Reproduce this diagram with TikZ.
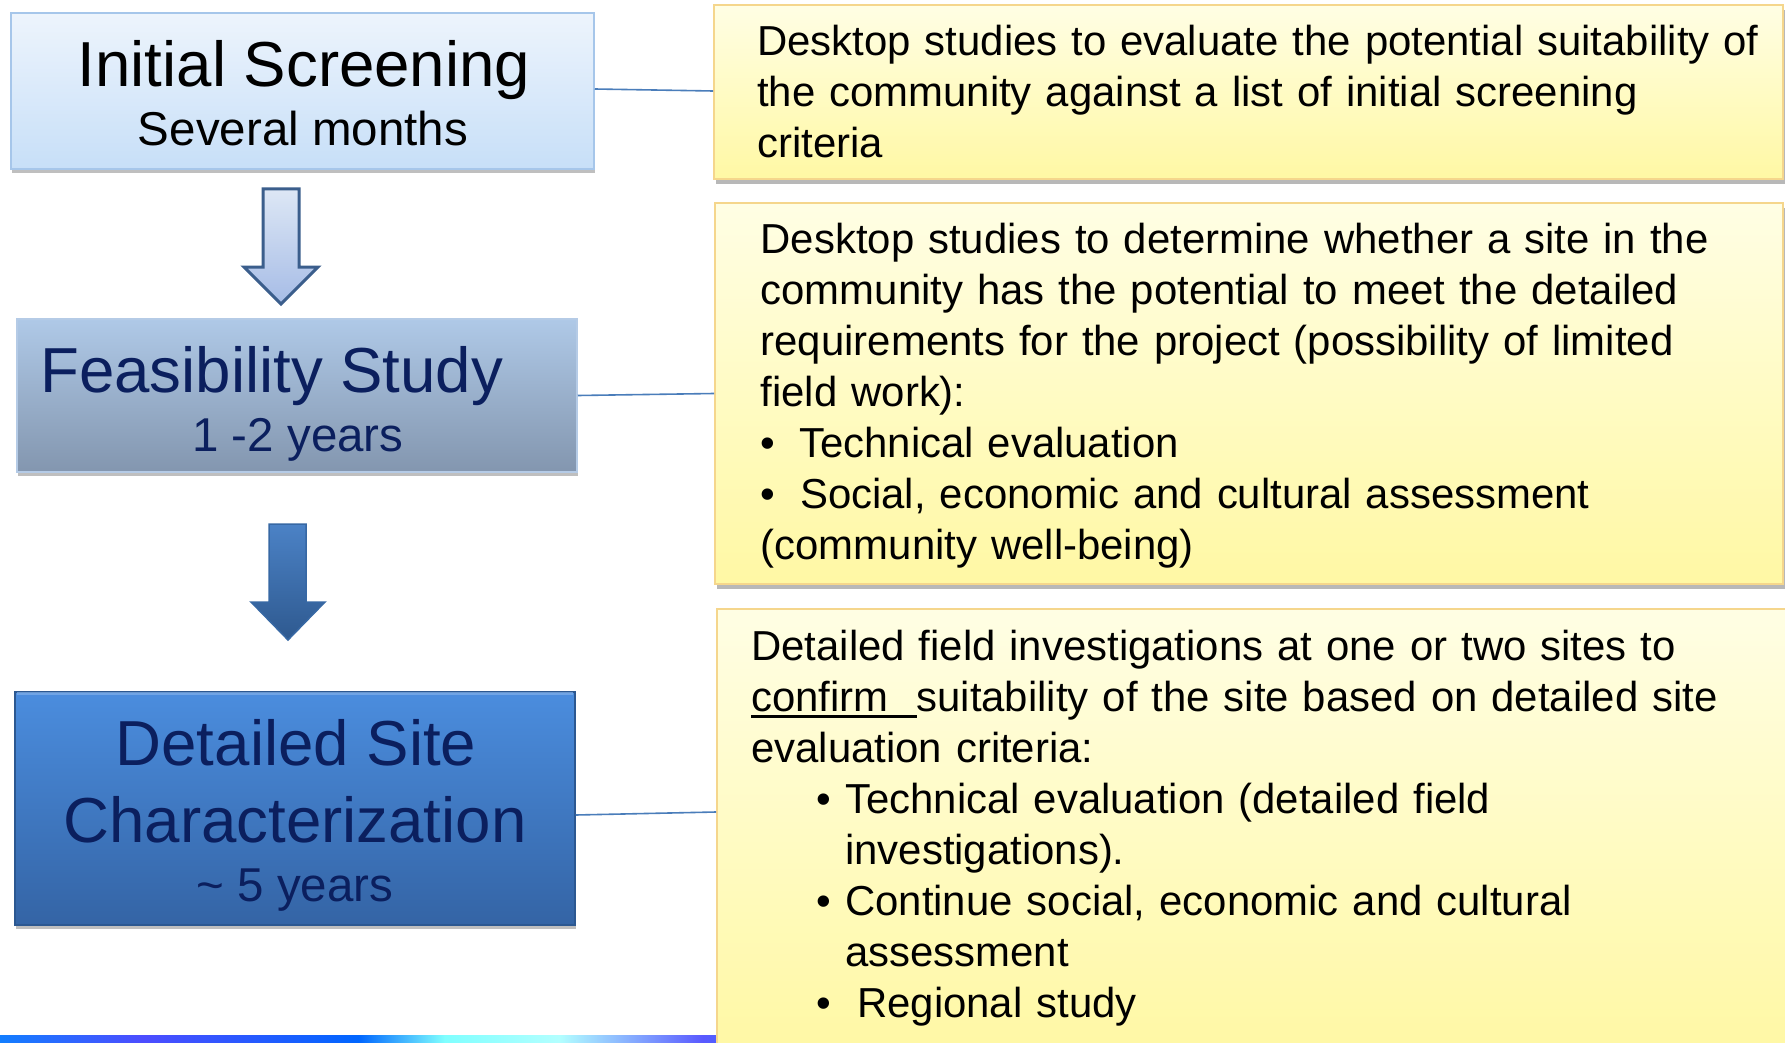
\documentclass[tikz,border=0pt]{standalone}
\usepackage{fontspec}
\setmainfont{Liberation Sans}
\usetikzlibrary{shadows,calc}
\definecolor{bAtop}{HTML}{EDF4FC}
\definecolor{bAbot}{HTML}{C7DFF8}
\definecolor{bAline}{HTML}{A6C6EA}
\definecolor{bBtop}{HTML}{AFC9E7}
\definecolor{bBbot}{HTML}{8396AF}
\definecolor{bBline}{HTML}{B5CBE6}
\definecolor{bCtop}{HTML}{4B8DDE}
\definecolor{bCbot}{HTML}{3464A5}
\definecolor{bCline}{HTML}{2C5891}
\definecolor{navy}{HTML}{0B1F5E}
\definecolor{ytop}{HTML}{FFFEE4}
\definecolor{ybot}{HTML}{FFF8A4}
\definecolor{yline}{HTML}{F5D68C}
\definecolor{conn}{HTML}{4A7DBA}
\definecolor{arAline}{HTML}{3B5E8C}
\definecolor{arAtop}{HTML}{DDE7F5}
\definecolor{arAbot}{HTML}{A6BCE6}
\definecolor{arBtop}{HTML}{4B82C6}
\definecolor{arBbot}{HTML}{2E598F}
\definecolor{arBline}{HTML}{3768A4}
\pgfdeclarehorizontalshading{stripshade}{100bp}{color(0bp)=(white); color(12bp)=(cyan!25); color(22bp)=(blue!45!cyan); color(35bp)=(blue!70); color(50bp)=(blue!60!cyan); color(56bp)=(cyan!50); color(64bp)=(cyan!30); color(74bp)=(blue!65); color(84bp)=(blue!45!cyan); color(92bp)=(cyan!40); color(100bp)=(blue!60)}
\newcommand\myTitleFont{\fontsize{63.6}{70}\selectfont}
\newcommand\mySubFont{\fontsize{47.5}{52}\selectfont}
\newcommand\myBodyFont{\fontsize{41.9}{51}\selectfont}
\newcommand\myUl[1]{\leavevmode\setbox0=\hbox{#1}\rlap{\rule[-6pt]{\wd0}{2.2pt}}\box0}
\tikzset{
  leftbox/.style={rectangle, inner sep=0pt, line width=1.5pt,
    drop shadow={shadow xshift=1pt, shadow yshift=-4pt, fill=black, opacity=0.25}},
  ybox/.style={rectangle, inner sep=0pt, line width=1.8pt, draw=yline, top color=ytop, bottom color=ybot,
    drop shadow={shadow xshift=2pt, shadow yshift=-5pt, fill=black, opacity=0.28}},
  bodytext/.style={anchor=north west, inner sep=0pt, align=left, text width=1030pt, font=\myBodyFont},
  connector/.style={draw=conn, line width=1.6pt},
}
\begin{document}
\begin{tikzpicture}[x=1pt,y=-1pt]
\useasboundingbox (0,0) rectangle (1785,1043);
\fill[white] (0,0) rectangle (1785,1043);
% bottom decorative strip
\shade[shading=stripshade] (0,1035) rectangle (717,1043);

% left boxes
\node[leftbox, draw=bAline, top color=bAtop, bottom color=bAbot, minimum width=583pt, minimum height=156pt] (b1) at (302.5,91) {};
\node[leftbox, draw=bBline, top color=bBtop, bottom color=bBbot, minimum width=560pt, minimum height=153pt] (b2) at (297,395.5) {};
\node[leftbox, draw=bCline, top color=bCtop, bottom color=bCbot, minimum width=560pt, minimum height=233pt] (b3) at (295,808.5) {};
\draw[line width=3pt, draw=bCtop!70!white, opacity=0.7] ([xshift=3pt,yshift=-2pt]b3.north west) -- ([xshift=-3pt,yshift=-2pt]b3.north east);

% left texts
\node[anchor=base, inner sep=0pt, font=\myTitleFont] (t1a) at (304,86.5) {Initial Screening};
\node[anchor=base, inner sep=0pt, font=\mySubFont] (t1b) at (303,145.7) {Several months};
\node[anchor=base west, inner sep=0pt, font=\myTitleFont, text=navy] (t2a) at (40,392.7) {Feasibility Study};
\node[anchor=base, inner sep=0pt, font=\mySubFont, text=navy] (t2b) at (298,451) {1 -2 years};
\node[anchor=base, inner sep=0pt, font=\myTitleFont, text=navy] (t3a) at (296,765) {Detailed Site};
\node[anchor=base, inner sep=0pt, font=\myTitleFont, text=navy] (t3b) at (295,842) {Characterization};
\node[anchor=base, inner sep=0pt, font=\mySubFont, text=navy] (t3c) at (295,901) {\char`\~{} 5 years};

% block arrows
\path[draw=arAline, line width=3pt, line join=miter, top color=arAtop, bottom color=arAbot]
  (263,189) -- (299,189) -- (299,267) -- (318,267) -- (281,304) -- (244,267) -- (263,267) -- cycle;
\path[draw=arBline, line width=1.5pt, line join=miter, top color=arBtop, bottom color=arBbot]
  (269,524) -- (306,524) -- (306,602) -- (325,602) -- (288,640) -- (251,602) -- (269,602) -- cycle;

% right boxes
\node[ybox, minimum width=1069pt, minimum height=174pt] (r1) at (1248.5,92) {};
\node[ybox, minimum width=1068pt, minimum height=381pt] (r2) at (1249,393.5) {};
\node[ybox, minimum width=1075pt, minimum height=445pt] (r3) at (1254.5,831.5) {};

% right texts
\node[bodytext] (p1) at (757,24.6) {Desktop studies to evaluate the potential suitability of\\
the community against a list of initial screening\\
criteria};
\node[bodytext] (p2) at (760.5,222.7) {Desktop studies to determine whether a site in the\\
community has the potential to meet the detailed\\
requirements for the project (possibility of limited\\
field work):\\
\makebox[38.5pt][l]{•}Technical evaluation\\
\makebox[39.5pt][l]{•}Social, economic and cultural assessment\\
(community well-being)};
\node[bodytext] (p3) at (751,630) {Detailed field investigations at one or two sites to\\
\myUl{confirm\ \ }suitability of the site based on detailed site\\
evaluation criteria:\\
\hspace*{65pt}\makebox[29pt][l]{•}Technical evaluation (detailed field\\
\hspace*{94pt}investigations).\\
\hspace*{65pt}\makebox[29pt][l]{•}Continue social, economic and cultural\\
\hspace*{94pt}assessment\\
\hspace*{65pt}\makebox[41pt][l]{•}Regional study};

% connectors
\draw[connector] ([yshift=2pt]b1.east) -- ([yshift=1pt]r1.west);
\draw[connector] (b2.east) -- (r2.west);
\draw[connector] ([yshift=-6.5pt]b3.east) -- ([yshift=19.5pt]r3.west);
\end{tikzpicture}
\end{document}
